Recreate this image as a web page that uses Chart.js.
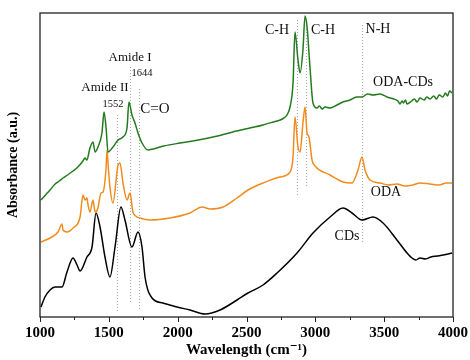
<!DOCTYPE html>
<html>
<head>
<meta charset="utf-8">
<script src="https://cdn.jsdelivr.net/npm/chart.js@4/dist/chart.umd.min.js"></script>
<style>
html,body{margin:0;padding:0;background:#fff;}
#wrap{width:470px;height:360px;}
</style>
</head>
<body>
<div id="wrap"><canvas id="c" width="470" height="360"></canvas></div>
<script>
// Wavenumber grid (cm-1) and absorbance (a.u., offset) for each spectrum
const odaCdsX = [1007,1040,1073,1110,1140,1167,1200,1240,1275,1312,1327,1340,1363,1385,1400,1421,1450,1465,1480,1494,1530,1567,1603,1632,1646,1668,1690,1712,1741,1785,1821,1900,2017,2150,2257,2400,2525,2620,2693,2760,2794,2816,2838,2852,2874,2889,2910,2925,2940,2961,2983,3012,3030,3050,3070,3107,3157,3200,3252,3300,3339,3380,3419,3470,3521,3570,3600,3615,3630,3640,3655,3666,3700,3720,3739,3760,3790,3810,3833,3860,3880,3900,3927,3945,3960,3975,3993];
const odaCdsY = [1.17,1.22,1.27,1.33,1.36,1.39,1.42,1.46,1.50,1.56,1.59,1.57,1.69,1.75,1.65,1.70,1.84,2.05,1.89,1.65,1.70,1.77,1.80,1.89,2.15,2.02,1.94,1.84,1.74,1.67,1.68,1.71,1.74,1.77,1.80,1.85,1.89,1.92,1.95,1.98,2.02,2.10,2.34,2.85,2.57,2.44,2.67,3.01,2.90,2.50,2.14,2.09,2.11,2.08,2.10,2.09,2.12,2.15,2.17,2.20,2.20,2.23,2.22,2.23,2.20,2.18,2.16,2.13,2.16,2.14,2.17,2.13,2.16,2.18,2.15,2.19,2.17,2.20,2.18,2.21,2.18,2.22,2.20,2.24,2.21,2.26,2.24];

const odaX = [1007,1073,1131,1160,1167,1196,1240,1291,1312,1327,1341,1349,1363,1385,1400,1421,1443,1458,1479,1487,1495,1508,1530,1567,1581,1603,1632,1654,1675,1726,1799,1944,2090,2177,2235,2329,2431,2511,2620,2743,2816,2838,2852,2874,2889,2910,2925,2940,2954,2976,2998,3107,3201,3266,3310,3339,3361,3397,3470,3530,3593,3650,3710,3760,3833,3900,3950,3993];
const odaY = [0.75,0.79,0.85,0.93,0.87,0.85,0.89,1.00,1.22,1.17,1.19,1.12,1.05,1.17,1.05,1.09,1.24,1.25,1.47,1.67,1.52,1.30,1.14,1.52,1.54,1.34,1.17,1.24,1.05,0.99,0.97,0.99,1.04,1.10,1.08,1.10,1.19,1.27,1.34,1.40,1.45,1.60,2.00,1.70,1.65,1.94,2.10,1.84,1.80,1.57,1.51,1.42,1.35,1.34,1.47,1.60,1.47,1.37,1.34,1.32,1.33,1.31,1.32,1.34,1.33,1.32,1.34,1.34];

const cdsX = [1007,1036,1073,1109,1160,1196,1240,1269,1291,1341,1378,1407,1436,1472,1508,1545,1588,1617,1668,1712,1741,1763,1814,1893,1995,2090,2199,2308,2431,2511,2620,2722,2867,2983,3107,3201,3266,3339,3419,3492,3593,3666,3702,3730,3760,3800,3840,3884,3930,3993];
const cdsY = [0.10,0.20,0.27,0.30,0.30,0.45,0.59,0.52,0.46,0.60,0.70,1.04,0.90,0.60,0.40,0.70,1.10,0.97,0.70,0.85,0.70,0.40,0.19,0.14,0.10,0.07,0.03,0.07,0.17,0.24,0.32,0.44,0.64,0.84,1.00,1.09,1.04,0.97,1.00,0.94,0.77,0.64,0.59,0.57,0.59,0.58,0.60,0.61,0.62,0.64];

const xTicks = [1000,1500,2000,2500,3000,3500,4000];

// Band markers: wavenumber, top and bottom of the dotted line
const markerX = [1559,1654,1719,2867,2932,3339];
const markerTop = [2.02,2.50,2.28,2.97,2.97,2.92];
const markerBottom = [0.05,0.15,0.07,1.22,1.29,0.75];

// Text labels
const labelText = ['Amide I','1644','Amide II','1552','C=O','C-H','C-H','N-H','ODA-CDs','ODA','CDs'];
const labelX = [1654,1741,1472,1530,1835,2722,3056,3455,3637,3513,3230];
const labelY = [2.59,2.44,2.29,2.13,2.08,2.87,2.87,2.88,2.35,1.25,0.81];
const labelSize = [13,10.5,13,10.5,15,14,14,14,14,14,14];

const pts = (xs, ys) => xs.map((x, i) => ({x, y: ys[i]}));
const SERIF = '"Liberation Serif", "DejaVu Serif", serif';

const decor = {
  id: 'decor',
  beforeDatasetsDraw(chart) {
    const {ctx, scales:{x, y}} = chart;
    ctx.save();
    ctx.strokeStyle = '#a8a8a8';
    ctx.lineWidth = 1;
    ctx.setLineDash([1, 2]);
    markerX.forEach((wn, i) => {
      const px = Math.round(x.getPixelForValue(wn)) + 0.5;
      ctx.beginPath();
      ctx.moveTo(px, y.getPixelForValue(markerTop[i]));
      ctx.lineTo(px, y.getPixelForValue(markerBottom[i]));
      ctx.stroke();
    });
    ctx.restore();
  },
  afterDatasetsDraw(chart) {
    const {ctx, chartArea:a, scales:{x, y}} = chart;
    ctx.save();
    ctx.strokeStyle = '#222';
    ctx.lineWidth = 1.3;
    ctx.strokeRect(a.left, a.top, a.right - a.left, a.bottom - a.top);
    ctx.lineWidth = 1;
    for (let v = 1000; v <= 4000; v += 250) {
      const px = Math.round(x.getPixelForValue(v)) + 0.5;
      const len = (v % 500 === 0) ? 5 : 3;
      ctx.beginPath();
      ctx.moveTo(px, a.bottom);
      ctx.lineTo(px, a.bottom + len);
      ctx.stroke();
    }
    ctx.fillStyle = '#111';
    ctx.textAlign = 'center';
    ctx.textBaseline = 'middle';
    labelText.forEach((t, i) => {
      ctx.font = labelSize[i] + 'px ' + SERIF;
      ctx.fillText(t, x.getPixelForValue(labelX[i]), y.getPixelForValue(labelY[i]));
    });
    ctx.restore();
  }
};

new Chart(document.getElementById('c'), {
  type: 'line',
  data: {
    datasets: [
      {label: 'ODA-CDs', data: pts(odaCdsX, odaCdsY), borderColor: '#247a1e', borderWidth: 1.5},
      {label: 'ODA', data: pts(odaX, odaY), borderColor: '#f08c1e', borderWidth: 1.5},
      {label: 'CDs', data: pts(cdsX, cdsY), borderColor: '#000000', borderWidth: 1.5}
    ]
  },
  options: {
    responsive: false,
    animation: false,
    events: [],
    layout: {padding: {top: 13, right: 17, left: 0, bottom: 0}},
    elements: {point: {radius: 0}, line: {cubicInterpolationMode: 'monotone'}},
    plugins: {legend: {display: false}, tooltip: {enabled: false}},
    scales: {
      x: {
        type: 'linear', min: 1000, max: 4000,
        afterBuildTicks: s => { s.ticks = xTicks.map(v => ({value: v})); },
        afterFit: s => { s.height = 43; s.paddingLeft = 0; s.paddingRight = 0; },
        grid: {display: false, drawTicks: false},
        border: {display: false},
        ticks: {color: '#000', padding: 7, maxRotation: 0, autoSkip: false,
                callback: v => String(v),
                font: {family: SERIF, size: 15, weight: 'bold'}},
        title: {display: true, text: 'Wavelength (cm\u207B\u00B9)', color: '#000',
                padding: {top: 0, bottom: 1},
                font: {family: SERIF, size: 15, weight: 'bold'}}
      },
      y: {
        type: 'linear', min: 0, max: 3.04,
        afterFit: s => { s.width = 40; s.paddingTop = 0; s.paddingBottom = 0; },
        grid: {display: false, drawTicks: false},
        border: {display: false},
        ticks: {display: false},
        title: {display: true, text: 'Absorbance (a.u.)', color: '#000',
                padding: {top: 5, bottom: 0},
                font: {family: SERIF, size: 14, weight: 'bold'}}
      }
    }
  },
  plugins: [decor]
});
</script>
</body>
</html>
